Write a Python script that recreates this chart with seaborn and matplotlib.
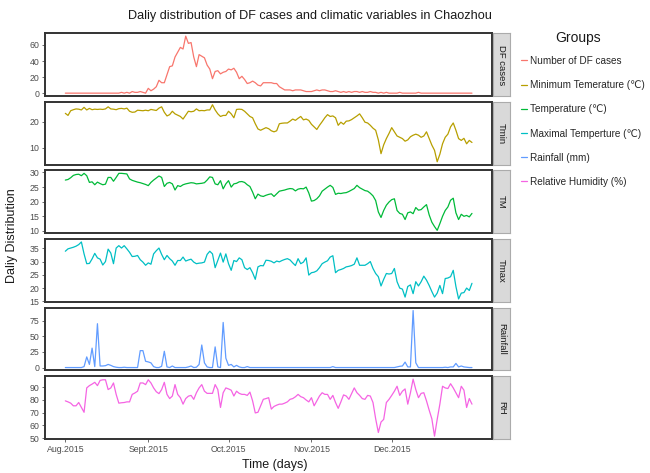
# %%
import numpy as np
import pandas as pd
import matplotlib.pyplot as plt
import matplotlib.ticker as mticker
from matplotlib.lines import Line2D
import seaborn as sns

# %% Dados diários (ago-dez 2015)
dates = pd.date_range('2015-08-01', '2015-12-31', freq='D')

df_cases = [
    0, 0, 0, 0, 0, 0, 0, 0, 0, 0, 0, 0, 0, 0, 0, 0, 0, 0, 0, 0, 0, 1, 0, 1, 0, 2, 1, 1, 2, 1, 0,
    6, 3, 5, 8, 16, 13, 13, 23, 33, 34, 45, 51, 57, 55, 71, 62, 63, 45, 33, 48, 46, 44, 35, 30, 18, 27, 28, 24, 26, 27,
    30, 29, 31, 26, 18, 21, 17, 12, 13, 15, 13, 10, 9, 13, 13, 13, 13, 12, 12, 8, 6, 4, 4, 4, 3, 4, 4, 4, 3, 2, 2,
    2, 3, 4, 3, 4, 4, 3, 2, 2, 3, 2, 1, 2, 1, 2, 1, 2, 2, 1, 2, 1, 1, 2, 1, 1, 0, 1, 0, 1, 0,
    0, 0, 0, 1, 0, 0, 0, 0, 0, 0, 1, 0, 0, 0, 0, 0, 0, 0, 0, 0, 0, 0, 0, 0, 0, 0, 0, 0, 0, 0, 0]

tmin = [
    23.2, 22.4, 24.2, 24.6, 24.9, 24.8, 24.5, 25.5, 24.5, 25.1, 24.6, 24.8, 24.7, 24.8, 24.7, 24.9, 25.7, 24.9, 24.8, 24.6,
    25.0, 25.1, 24.9, 25.2, 24.0, 23.6, 23.7, 24.4, 24.3, 24.2, 24.4,
    24.2, 24.7, 24.5, 24.3, 25.2, 25.7, 23.6, 22.2, 22.7, 24.0, 23.0, 22.5, 22.0, 21.0, 22.5, 24.0, 23.8, 24.0, 24.9, 24.2,
    24.3, 24.2, 24.5, 24.5, 26.5, 24.5, 23.0, 22.0, 22.4, 22.4,
    24.0, 23.0, 21.5, 24.7, 24.8, 24.7, 24.0, 23.0, 22.0, 21.5, 19.2, 17.2, 16.7, 17.2, 17.7, 17.3, 16.5, 16.1, 16.5, 19.2,
    19.4, 19.5, 19.5, 20.2, 21.0, 20.5, 21.3, 22.0, 20.7, 21.0, 20.5,
    19.0, 18.0, 17.0, 18.6, 20.0, 21.5, 22.7, 22.0, 22.2, 21.5, 18.6, 19.8, 19.0, 20.2, 20.3, 20.8, 21.5, 22.2, 23.0, 21.5,
    19.8, 19.5, 18.6, 17.5, 16.7, 13.0, 7.7, 11.1, 13.5, 15.5,
    17.7, 16.1, 14.5, 14.0, 13.5, 12.5, 13.0, 14.2, 14.8, 15.2, 14.8, 14.0, 14.5, 16.1, 13.5, 11.0, 9.0, 4.6, 7.5, 11.5,
    14.0, 15.2, 18.0, 19.5, 16.7, 13.5, 12.8, 13.6, 11.5, 12.8, 12.0]

tm = [
    27.4, 27.6, 28.2, 29.0, 29.3, 29.4, 28.9, 29.7, 28.9, 26.6, 26.8, 25.8, 26.7, 26.2, 25.8, 26.0, 28.3, 28.3, 27.0, 28.3,
    29.7, 29.7, 29.6, 29.5, 27.8, 27.3, 27.0, 26.7, 26.5, 26.2, 25.9,
    25.5, 26.6, 27.4, 28.1, 28.8, 28.3, 25.2, 26.3, 26.6, 26.1, 24.0, 25.5, 25.2, 25.8, 26.1, 26.3, 26.5, 26.4, 26.1, 26.2,
    26.3, 26.5, 27.4, 28.5, 28.3, 26.1, 25.8, 27.2, 24.4, 26.1,
    27.2, 25.0, 26.1, 26.3, 26.8, 26.9, 26.6, 25.8, 25.2, 23.3, 21.0, 22.6, 22.0, 21.8, 22.2, 22.5, 22.7, 21.8, 22.7, 23.6,
    23.8, 24.0, 24.3, 24.5, 24.4, 23.7, 24.3, 24.5, 24.4, 25.0, 23.0,
    20.2, 20.4, 21.0, 22.0, 23.6, 24.3, 25.0, 25.6, 24.9, 22.5, 22.9, 22.8, 23.0, 23.1, 23.5, 24.0, 24.5, 25.6, 24.8, 24.3,
    23.8, 23.6, 22.9, 22.0, 20.4, 16.5, 14.6, 17.0, 18.8, 19.9,
    20.7, 21.0, 17.0, 16.0, 15.7, 13.9, 16.2, 16.5, 15.9, 18.0, 17.1, 17.3, 18.2, 19.0, 15.5, 13.0, 11.5, 10.2, 12.5, 15.0,
    17.0, 18.2, 20.5, 21.2, 16.2, 13.9, 15.7, 15.0, 15.3, 14.8, 16.0]

tmax = [
    33.9, 34.8, 35.1, 35.4, 35.8, 36.4, 37.4, 32.9, 29.2, 29.3, 31.0, 33.1, 31.4, 30.9, 28.7, 30.0, 34.7, 33.2, 29.2, 35.1,
    36.0, 35.1, 36.0, 34.8, 33.5, 31.9, 32.0, 32.3, 30.7, 29.8, 28.6,
    29.5, 29.0, 32.9, 34.1, 35.1, 32.7, 30.7, 32.3, 31.1, 30.2, 28.6, 30.4, 30.4, 31.7, 30.2, 30.6, 30.9, 29.8, 29.2, 29.4,
    29.5, 29.8, 32.7, 33.9, 32.9, 27.7, 30.4, 33.2, 29.8, 32.9,
    29.2, 26.7, 30.4, 30.0, 31.4, 30.7, 27.7, 27.0, 27.7, 25.8, 23.3, 28.0, 28.5, 28.4, 30.5, 30.4, 30.1, 29.5, 30.2, 29.9,
    30.4, 30.8, 31.1, 30.6, 29.5, 28.5, 31.1, 29.2, 29.8, 31.4, 24.9,
    25.8, 26.0, 26.5, 27.7, 29.2, 29.8, 30.3, 31.7, 32.2, 25.8, 26.7, 27.0, 27.4, 28.0, 28.2, 28.5, 29.0, 31.4, 28.6, 28.6,
    28.6, 29.2, 30.0, 27.4, 25.5, 24.3, 20.8, 23.3, 25.5, 25.3,
    25.5, 27.4, 22.4, 20.0, 19.6, 16.6, 20.6, 21.2, 17.9, 22.4, 20.8, 22.4, 24.5, 23.0, 21.0, 18.7, 16.6, 18.1, 21.0, 17.9,
    23.6, 23.8, 24.3, 26.7, 20.6, 15.9, 18.1, 18.3, 20.0, 19.1, 21.8]

rainfall = [
    0, 0, 0, 0, 0, 0, 0, 1.5, 17, 5, 31, 1.5, 70, 2.5, 2.5, 3, 5, 3.5, 1.5, 0.5, 0, 0, 0.5, 0, 0, 0, 0, 0, 27, 27, 10,
    9, 7.5, 1.5, 0, 0, 2, 26, 1, 0, 2.5, 0, 0, 0, 0, 0, 1, 2.5, 0, 0.5, 5, 36, 7.5, 1, 0, 0, 33, 1, 0, 72, 15,
    3.5, 5, 1, 3.5, 1, 0, 0, 1.5, 0, 0, 0, 0, 0, 0, 0, 0, 0, 0, 0, 0, 0, 0, 0, 0, 0, 0, 0, 0, 0, 0, 0,
    0, 0, 0, 0, 0, 0, 0, 0, 1.5, 0, 0, 0, 0, 0, 0, 0, 0, 0, 0, 0, 0, 0, 0, 0, 0, 0, 0, 0, 0, 0,
    0, 0, 1, 2, 2.5, 8.7, 1, 1, 91, 7.6, 0, 0, 0, 0, 0, 0, 0, 0, 0, 0, 0.5, 0, 1, 1, 6.6, 1, 2.5, 1, 0.5, 0, 0]

rh = [
    79.3, 78.5, 77.5, 75.4, 75.4, 78.0, 74.1, 70.3, 89.5, 91.3, 92.5, 93.9, 91.3, 95.4, 95.9, 95.9, 88.2, 89.5, 93.4, 84.4,
    77.5, 77.8, 78.0, 78.5, 78.5, 84.4, 85.5, 86.9, 93.4, 93.4, 92.1,
    95.9, 93.4, 89.5, 86.5, 85.0, 88.2, 93.9, 84.4, 81.1, 83.1, 92.1, 84.4, 81.8, 76.7, 81.1, 83.0, 83.6, 80.5, 85.7, 89.5,
    92.1, 86.9, 85.2, 85.2, 85.2, 92.1, 88.2, 74.1, 85.7, 89.5,
    88.7, 87.7, 83.1, 86.9, 85.2, 84.4, 84.4, 83.6, 86.2, 79.3, 69.8, 70.3, 75.4, 80.5, 81.1, 81.8, 72.8, 74.9, 75.9, 76.7,
    76.7, 77.5, 78.5, 80.5, 81.1, 82.5, 84.4, 82.6, 81.8, 80.0, 78.5,
    81.8, 75.4, 79.3, 83.1, 85.7, 84.4, 84.4, 80.5, 83.6, 78.0, 73.4, 78.5, 84.0, 83.1, 80.5, 85.0, 89.5, 85.7, 83.6, 81.1,
    80.5, 83.6, 83.1, 78.0, 65.2, 54.4, 62.6, 64.7, 78.0, 80.5,
    83.6, 86.9, 90.8, 83.6, 86.9, 88.7, 76.7, 85.7, 96.4, 88.2, 81.8, 85.2, 85.7, 79.3, 72.0, 65.2, 51.5, 64.7, 76.7, 90.8,
    89.5, 89.0, 92.8, 89.5, 85.7, 81.8, 90.8, 87.7, 74.1, 81.1, 76.7]

panels = ['DF cases', 'Tmin', 'TM', 'Tmax', 'Rainfall', 'RH']
groups = ['Number of DF cases', 'Minimum Temerature (℃)', 'Temperature (℃)',
          'Maximal Temperture (℃)', 'Rainfall (mm)', 'Relative Humidity (%)']
month_ticks = pd.to_datetime(['2015-08-01', '2015-09-01', '2015-10-01', '2015-11-01', '2015-12-01'])
month_labels = ['Aug.2015', 'Sept.2015', 'Oct.2015', 'Nov.2015', 'Dec.2015']

series = [df_cases, tmin, tm, tmax, rainfall, rh]
df = pd.DataFrame({
    'date': np.tile(dates, len(panels)),
    'value': np.concatenate(series),
    'panel': np.repeat(panels, len(dates)),
})

# %% Estilo
sns.set_theme(style='white')
plt.rcParams['font.family'] = ['Liberation Sans', 'DejaVu Sans']
colors = ['#F8766D', '#B79F00', '#00BA38', '#00BFC4', '#619CFF', '#F564E3']
steps = [20, 10, 5, 5, 25, 10]

W, H = 650, 473
fig = plt.figure(figsize=(6.5, 4.73), dpi=100)

left, right = 45, 492.3
top0, ph, gap = 33.3, 62.7, 68.6

for i, name in enumerate(panels):
    top = top0 + gap * i
    ax = fig.add_axes([left / W, 1 - (top + ph) / H, (right - left) / W, ph / H])
    sns.lineplot(data=df[df.panel == name], x='date', y='value', color=colors[i],
                 linewidth=0.9, ax=ax)
    ax.margins(x=0.05, y=0.05)
    ax.yaxis.set_major_locator(mticker.MultipleLocator(steps[i]))
    ax.set_xlabel('')
    ax.set_ylabel('')
    for s in ax.spines.values():
        s.set_color('#333333')
        s.set_linewidth(1.4)
    ax.tick_params(axis='y', left=True, length=2.5, width=0.5, color='#333333',
                   labelsize=6.3, labelcolor='#4D4D4D', pad=1.5)
    ax.set_xticks(month_ticks)
    if i < len(panels) - 1:
        ax.tick_params(axis='x', bottom=False, labelbottom=False)
    else:
        ax.set_xticklabels(month_labels)
        ax.tick_params(axis='x', bottom=True, length=2.5, width=0.5, color='#333333',
                       labelsize=6.3, labelcolor='#4D4D4D', pad=1.5)

    # faixa lateral (strip) do facet
    sax = fig.add_axes([493.3 / W, 1 - (top + ph) / H, 16.5 / W, ph / H])
    sax.set_facecolor('#D9D9D9')
    sax.set_xticks([])
    sax.set_yticks([])
    for s in sax.spines.values():
        s.set_color('#ABABAB')
        s.set_linewidth(0.8)
    sax.text(0.5, 0.5, name, rotation=270, ha='center', va='center',
             fontsize=6.8, color='#1A1A1A', transform=sax.transAxes)

fig.text(310 / W, 1 - 16 / H, 'Daliy distribution of DF cases and climatic variables in Chaozhou',
         ha='center', va='center', fontsize=9.1, color='#1A1A1A')
fig.text(12 / W, 1 - 236 / H, 'Daliy Distribution', rotation=90, ha='center', va='center',
         fontsize=9, color='#1A1A1A')
fig.text(275 / W, 1 - 465 / H, 'Time (days)', ha='center', va='center',
         fontsize=9, color='#1A1A1A')

# %% Legenda
handles = [Line2D([], [], color=c, lw=0.9) for c in colors]
fig.text(578 / W, 1 - 38 / H, 'Groups', ha='center', va='center', fontsize=10, color='#1A1A1A')
fig.legend(handles, groups, loc='upper left', bbox_to_anchor=(521 / W, 1 - 56 / H),
           frameon=False, fontsize=7.2, handlelength=0.6, handletextpad=0.3,
           labelspacing=1.42, borderpad=0, borderaxespad=0)

plt.savefig('out.png', dpi=100)
